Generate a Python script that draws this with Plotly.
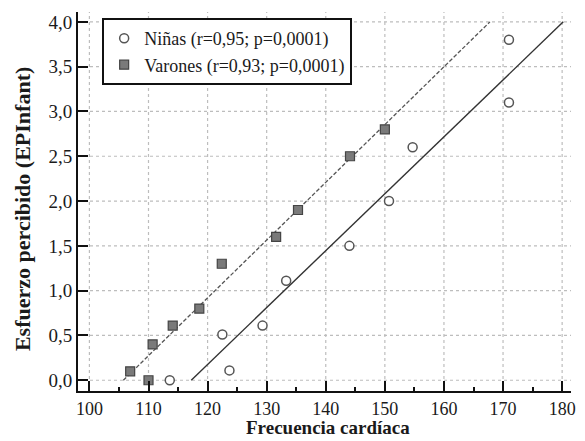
import numpy as np
import plotly.graph_objects as go

# Data
ninas_x = [113.6, 123.7, 122.5, 129.3, 133.3, 144.0, 150.7, 154.7, 171.0, 171.0]
ninas_y = [0.0, 0.11, 0.51, 0.61, 1.11, 1.50, 2.00, 2.60, 3.10, 3.80]
varones_x = [106.9, 110.0, 110.7, 114.1, 118.6, 122.4, 131.6, 135.3, 144.1, 150.0]
varones_y = [0.10, 0.0, 0.40, 0.61, 0.80, 1.30, 1.60, 1.90, 2.50, 2.80]
legend_ninas = "Niñas (r=0,95; p=0,0001)"
legend_varones = "Varones (r=0,93; p=0,0001)"
x_title = "Frecuencia cardíaca"
y_title = "Esfuerzo percibido (EPInfant)"
x_ticks = [100, 110, 120, 130, 140, 150, 160, 170, 180]
y_ticks = [0.0, 0.5, 1.0, 1.5, 2.0, 2.5, 3.0, 3.5, 4.0]

def fit_line(x, y):
    m, b = np.polyfit(x, y, 1)
    x0 = (0 - b) / m
    x1 = (4.0 - b) / m
    return [x0, x1], [m * x0 + b, m * x1 + b]

FONT = "Liberation Serif"
INK = "#1a1a1a"
GRID = dict(color="#bdbdbd", width=1.2, dash="dot")

fig = go.Figure()
lx, ly = fit_line(varones_x, varones_y)
fig.add_trace(go.Scatter(x=lx, y=ly, mode="lines", showlegend=False,
                         line=dict(color="#555555", width=1.3, dash="4px,2px")))
lx, ly = fit_line(ninas_x, ninas_y)
fig.add_trace(go.Scatter(x=lx, y=ly, mode="lines", showlegend=False,
                         line=dict(color="#333333", width=1.4)))
fig.add_trace(go.Scatter(x=ninas_x, y=ninas_y, mode="markers", name=legend_ninas,
                         marker=dict(symbol="circle", size=9, color="white",
                                     line=dict(color="#555555", width=1.5))))
fig.add_trace(go.Scatter(x=varones_x, y=varones_y, mode="markers", name=legend_varones,
                         marker=dict(symbol="square", size=9, color="#7a7a7a",
                                     line=dict(color="#444444", width=1.2))))

# dotted grid at the tick values
for xv in x_ticks:
    fig.add_vline(x=xv, line=GRID, layer="below")
for yv in y_ticks:
    fig.add_hline(y=yv, line=GRID, layer="below")

fig.update_layout(
    # page body adds an 8px offset; size chosen so the chart fills the 585x441 window
    width=577, height=433,
    margin=dict(l=70, r=14, t=4, b=50),
    paper_bgcolor="white", plot_bgcolor="white",
    separators=",.",
    font=dict(family=FONT, size=20, color=INK),
    legend=dict(x=0.049, y=0.984, xanchor="left", yanchor="top",
                bgcolor="white", bordercolor="#111111", borderwidth=2,
                font=dict(family=FONT, size=18, color=INK), itemsizing="trace",
                tracegroupgap=0, itemwidth=30),
    xaxis=dict(range=[98.07, 181.5], tickvals=x_ticks, ticks="inside", ticklen=10,
               tickwidth=2, tickcolor="#111111", automargin=False,
               showline=True, linecolor="#111111", linewidth=2,
               zeroline=False, showgrid=False,
               minor=dict(dtick=5, tick0=100, ticks="inside", ticklen=4, tickcolor="#111111",
                          tickwidth=1.5),
               tickfont=dict(family=FONT, size=18, color=INK)),
    yaxis=dict(range=[-0.12, 4.11], tickvals=y_ticks, tickformat=".1f", ticks="inside",
               ticklen=10, tickwidth=2, tickcolor="#111111", automargin=False,
               showline=True, linecolor="#111111", linewidth=2,
               zeroline=False, showgrid=False,
               tickfont=dict(family=FONT, size=19, color=INK)),
    annotations=[
        dict(text="<b>" + x_title + "</b>", xref="paper", yref="paper", x=0.507, y=0,
             xanchor="center", yanchor="bottom", yshift=-49, showarrow=False,
             font=dict(family=FONT, size=19, color=INK)),
        dict(text="<b>" + y_title + "</b>", xref="paper", yref="paper", x=0, y=0.48,
             xanchor="center", yanchor="middle", xshift=-56, textangle=-90, showarrow=False,
             font=dict(family=FONT, size=22, color=INK)),
    ],
)

fig.write_html("out.html")
